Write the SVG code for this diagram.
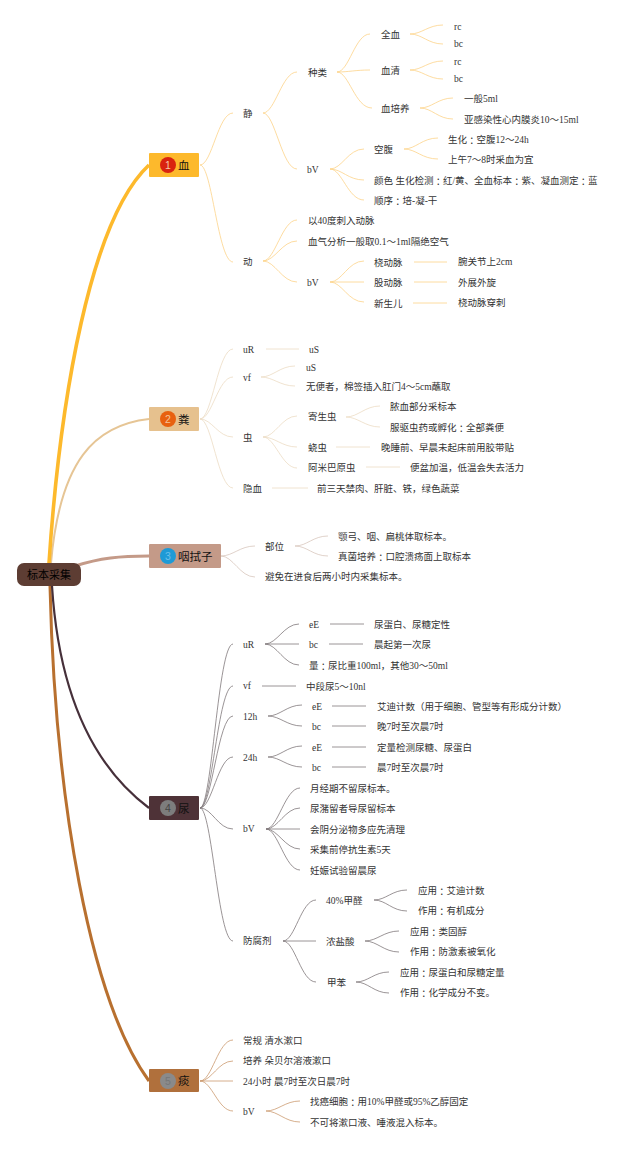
<svg xmlns="http://www.w3.org/2000/svg" width="640" height="1149" viewBox="0 0 640 1149">
<style>
text{font-family:"Liberation Serif","Noto Sans CJK SC",serif;font-size:9.5px;fill:#333;dominant-baseline:central}
.k{font-family:"Noto Sans CJK TC",sans-serif}
.t{font-size:11.5px;fill:#111}
.r{font-size:11px;fill:#000;text-anchor:middle}
.n{font-family:"Liberation Sans",sans-serif;font-size:10.5px;text-anchor:middle}
path{fill:none}
.a path{stroke:#fdd389;stroke-width:.8}
.b path{stroke:#ecdcc4;stroke-width:.8}
.c path{stroke:#d8c6bd;stroke-width:.8}
.d path{stroke:#80797b;stroke-width:.8}
.e path{stroke:#cb9a70;stroke-width:.8}
</style>
<rect width="640" height="1149" fill="#fff"/>
<g id="connectors">
<path d="M50 586C55 800 90 1000 149 1081" stroke="#b8702f" stroke-width="3"/>
<path d="M52 586C58 680 85 760 149 808" stroke="#46303a" stroke-width="2.2"/>
<path d="M75 566C100 558 120 556 149 556" stroke="#c49a88" stroke-width="3"/>
<path d="M51 563C60 460 95 425 149 419" stroke="#e6c595" stroke-width="2"/>
<path d="M49 563C60 400 90 220 149 165" stroke="#fdb92c" stroke-width="3.6"/>
<g class="a">
<path d="M200 165C212 165 218 113 233 113"/><path d="M200 165C212 165 218 262 233 262"/>
<path d="M263 113C275 113 282 72 297 72"/><path d="M263 113C275 113 282 169 297 169"/>
<path d="M337 72C349 72 355 34 370 34"/><path d="M337 72C349 72 355 70 370 70"/><path d="M337 72C349 72 355 108 372 108"/>
<path d="M410 34C422 34 428 25 443 25"/><path d="M410 34C422 34 428 44 443 44"/>
<path d="M410 70C422 70 428 61 443 61"/><path d="M410 70C422 70 428 79 443 79"/>
<path d="M420 108C432 108 438 98 453 98"/><path d="M420 108C432 108 438 119 453 119"/>
<path d="M330 169C342 169 348 149 364 149"/><path d="M330 169C342 169 348 180 364 180"/><path d="M330 169C342 169 348 200 364 200"/>
<path d="M404 149C416 149 422 138 438 138"/><path d="M404 149C416 149 422 159 438 159"/>
<path d="M263 261C275 261 282 220 297 220"/><path d="M263 261C275 261 282 241 297 241"/><path d="M263 261C275 261 282 282 297 282"/>
<path d="M330 282C342 282 348 261 364 261"/><path d="M330 282H364"/><path d="M330 282C342 282 348 302 364 302"/>
<path d="M414 262H447"/><path d="M414 282H447"/><path d="M413 303H447"/>
</g>
<g class="b">
<path d="M200 419C212 419 218 349 233 349"/><path d="M200 419C212 419 218 377 233 377"/><path d="M200 419C212 419 218 437 233 437"/><path d="M200 419C212 419 218 488 233 488"/>
<path d="M266 349H299"/>
<path d="M261 377C273 377 280 366 295 366"/><path d="M261 377C273 377 280 386 295 386"/>
<path d="M263 437C275 437 282 416 297 416"/><path d="M263 437C275 437 282 447 297 447"/><path d="M263 437C275 437 282 468 297 468"/>
<path d="M346 417C358 417 365 406 380 406"/><path d="M346 417C358 417 365 427 380 427"/>
<path d="M336 447H370"/><path d="M366 467H400"/><path d="M272 488H308"/>
</g>
<g class="c">
<path d="M221 556C233 556 240 546 255 546"/><path d="M221 556C233 556 240 577 255 577"/>
<path d="M295 546C307 546 313 536 328 536"/><path d="M295 546C307 546 313 556 328 556"/>
</g>
<g class="d">
<path d="M200 808C212 808 218 644 233 644"/><path d="M200 808C212 808 218 686 233 686"/><path d="M200 808C212 808 218 716 233 716"/><path d="M200 808C212 808 218 757 233 757"/><path d="M200 808C212 808 218 829 233 829"/><path d="M200 808C212 808 218 941 233 941"/>
<path d="M265 644C277 644 284 624 299 624"/><path d="M265 644H299"/><path d="M265 644C277 644 284 665 299 665"/>
<path d="M330 624H364"/><path d="M329 644H363"/><path d="M262 686H296"/>
<path d="M268 716C280 716 287 705 302 705"/><path d="M268 716C280 716 287 726 302 726"/>
<path d="M332 706H366"/><path d="M332 726H366"/>
<path d="M268 757C280 757 287 746 302 746"/><path d="M268 757C280 757 287 767 302 767"/>
<path d="M332 747H366"/><path d="M332 767H366"/>
<path d="M266 829C278 829 285 788 300 788"/><path d="M266 829C278 829 285 808 300 808"/><path d="M266 829H300"/><path d="M266 829C278 829 285 849 300 849"/><path d="M266 829C278 829 285 870 300 870"/>
<path d="M283 941C295 941 301 900 316 900"/><path d="M283 941H316"/><path d="M283 941C295 941 301 982 316 982"/>
<path d="M374 900C386 900 392 890 407 890"/><path d="M374 900C386 900 392 911 407 911"/>
<path d="M365 941C377 941 384 931 399 931"/><path d="M365 941C377 941 384 952 399 952"/>
<path d="M356 982C368 982 374 972 389 972"/><path d="M356 982C368 982 374 993 389 993"/>
</g>
<g class="e">
<path d="M200 1081C212 1081 218 1040 233 1040"/><path d="M200 1081C212 1081 218 1061 233 1061"/><path d="M200 1081H233"/><path d="M200 1081C212 1081 218 1111 233 1111"/>
<path d="M266 1111C278 1111 285 1101 300 1101"/><path d="M266 1111C278 1111 285 1122 300 1122"/>
</g>
</g>
<g id="root"><rect x="17" y="563" width="64" height="23" rx="7" fill="#5d3d33"/><text class="r" x="49" y="575">标本采集</text></g>
<g id="node1"><rect x="149" y="153" width="50" height="24" rx="1" fill="#fdb92c"/><circle cx="168" cy="165" r="8" fill="#d9230f"/><text class="n" x="168" y="165" style="fill:#f6c9a8">1</text><text class="t" x="178" y="166">血</text></g>
<g id="node2"><rect x="149" y="407" width="50" height="24" rx="1" fill="#e6c18e"/><circle cx="168" cy="419" r="8" fill="#e8600f"/><text class="n" x="168" y="419" style="fill:#f5c39a">2</text><text class="t" x="178" y="420">粪</text></g>
<g id="node3"><rect x="149" y="544" width="72" height="24" rx="1" fill="#c49a88"/><circle cx="168" cy="556" r="8" fill="#1e9ad6"/><text class="n" x="168" y="556" style="fill:#6cc0ea">3</text><text class="t" x="178" y="557">咽拭子</text></g>
<g id="node4"><rect x="149" y="796" width="50" height="24" rx="1" fill="#4e3237"/><circle cx="168" cy="808" r="8" fill="#7d7d7d"/><text class="n" x="168" y="808" style="fill:#444">4</text><text class="t" x="178" y="809">尿</text></g>
<g id="node5"><rect x="149" y="1069" width="50" height="23" rx="1" fill="#b0703c"/><circle cx="168" cy="1081" r="8" fill="#8a8a8a"/><text class="n" x="168" y="1081" style="fill:#777">5</text><text class="t" x="178" y="1081">痰</text></g>
<g id="labels-blood">
<g id="a1"><text x="243" y="114">静</text></g><g id="a2"><text x="243" y="262">动</text></g>
<g id="a3"><text x="308" y="73">种类</text></g><g id="a4"><text x="307" y="170">bV</text></g>
<g id="a5"><text x="381" y="35">全血</text></g><g id="a6"><text x="381" y="70.5">血清</text></g><g id="a7"><text x="381" y="109">血培养</text></g>
<g id="a8"><text x="454" y="27">rc</text></g><g id="a9"><text x="454" y="44">bc</text></g><g id="a10"><text x="454" y="62">rc</text></g><g id="a11"><text x="454" y="79">bc</text></g>
<g id="a12"><text x="464" y="99">一般5ml</text></g><g id="a13"><text x="464" y="120">亚感染性心内膜炎10～15ml</text></g>
<g id="a14"><text x="374" y="150">空腹</text></g><g id="a15"><text x="374" y="181">颜色 生化检测<tspan class="k">：</tspan>红/黄、全血标本<tspan class="k">：</tspan>紫、凝血测定<tspan class="k">：</tspan>蓝</text></g><g id="a16"><text x="374" y="201">顺序<tspan class="k">：</tspan>培-凝-干</text></g>
<g id="a17"><text x="448" y="140">生化<tspan class="k">：</tspan>空腹12～24h</text></g><g id="a18"><text x="448" y="160">上午7～8时采血为宜</text></g>
<g id="a19"><text x="308" y="221">以40度刺入动脉</text></g><g id="a20"><text x="308" y="242">血气分析一般取0.1～1ml隔绝空气</text></g><g id="a21"><text x="307" y="283">bV</text></g>
<g id="a22"><text x="374" y="263">桡动脉</text></g><g id="a23"><text x="374" y="283">股动脉</text></g><g id="a24"><text x="374" y="304">新生儿</text></g>
<g id="a25"><text x="458" y="262">腕关节上2cm</text></g><g id="a26"><text x="458" y="283">外展外旋</text></g><g id="a27"><text x="458" y="303">桡动脉穿刺</text></g>
</g>
<g id="labels-stool">
<g id="b1"><text x="243" y="350">uR</text></g><g id="b2"><text x="243" y="378">vf</text></g><g id="b3"><text x="243" y="438">虫</text></g><g id="b4"><text x="243" y="489">隐血</text></g>
<g id="b5"><text x="309" y="350">uS</text></g><g id="b6"><text x="306" y="368">uS</text></g><g id="b7"><text x="306" y="386.5">无便者，棉签插入肛门4～5cm蘸取</text></g>
<g id="b8"><text x="308" y="417">寄生虫</text></g><g id="b9"><text x="308" y="448">蛲虫</text></g><g id="b10"><text x="308" y="468">阿米巴原虫</text></g>
<g id="b11"><text x="390" y="407">脓血部分采标本</text></g><g id="b12"><text x="390" y="428">服驱虫药或孵化<tspan class="k">：</tspan>全部粪便</text></g>
<g id="b13"><text x="381" y="448">晚睡前、早晨未起床前用胶带贴</text></g><g id="b14"><text x="410" y="468">便盆加温，低温会失去活力</text></g><g id="b15"><text x="317" y="489">前三天禁肉、肝脏、铁，绿色蔬菜</text></g>
</g>
<g id="labels-throat">
<g id="c1"><text x="265" y="547">部位</text></g><g id="c2"><text x="265" y="577">避免在进食后两小时内采集标本。</text></g>
<g id="c3"><text x="338" y="537">颚弓、咽、扁桃体取标本。</text></g><g id="c4"><text x="338" y="557">真菌培养<tspan class="k">：</tspan>口腔溃疡面上取标本</text></g>
</g>
<g id="labels-urine">
<g id="d1"><text x="243" y="645">uR</text></g><g id="d2"><text x="243" y="686">vf</text></g><g id="d3"><text x="243" y="717">12h</text></g><g id="d4"><text x="243" y="758">24h</text></g><g id="d5"><text x="243" y="829">bV</text></g><g id="d6"><text x="243" y="941">防腐剂</text></g>
<g id="d7"><text x="309" y="625">eE</text></g><g id="d8"><text x="309" y="645">bc</text></g><g id="d9"><text x="309" y="666">量<tspan class="k">：</tspan>尿比重100ml，其他30～50ml</text></g>
<g id="d10"><text x="374" y="625">尿蛋白、尿糖定性</text></g><g id="d11"><text x="374" y="645">晨起第一次尿</text></g><g id="d12"><text x="306" y="686.5">中段尿5～10nl</text></g>
<g id="d13"><text x="312" y="707">eE</text></g><g id="d14"><text x="312" y="727">bc</text></g><g id="d15"><text x="377" y="707">艾迪计数（用于细胞、管型等有形成分计数）</text></g><g id="d16"><text x="377" y="727">晚7时至次晨7时</text></g>
<g id="d17"><text x="312" y="748">eE</text></g><g id="d18"><text x="312" y="768">bc</text></g><g id="d19"><text x="377" y="748">定量检测尿糖、尿蛋白</text></g><g id="d20"><text x="377" y="768">晨7时至次晨7时</text></g>
<g id="d21"><text x="310" y="789">月经期不留尿标本。</text></g><g id="d22"><text x="310" y="809">尿潴留者导尿留标本</text></g><g id="d23"><text x="310" y="830">会阴分泌物多应先清理</text></g><g id="d24"><text x="310" y="850">采集前停抗生素5天</text></g><g id="d25"><text x="310" y="871">妊娠试验留晨尿</text></g>
<g id="d26"><text x="326" y="901">40%甲醛</text></g><g id="d27"><text x="326" y="942">浓盐酸</text></g><g id="d28"><text x="327" y="983">甲苯</text></g>
<g id="d29"><text x="418" y="891">应用<tspan class="k">：</tspan>艾迪计数</text></g><g id="d30"><text x="418" y="911">作用<tspan class="k">：</tspan>有机成分</text></g>
<g id="d31"><text x="410" y="932">应用<tspan class="k">：</tspan>类固醇</text></g><g id="d32"><text x="410" y="952">作用<tspan class="k">：</tspan>防激素被氧化</text></g>
<g id="d33"><text x="400" y="972.5">应用<tspan class="k">：</tspan>尿蛋白和尿糖定量</text></g><g id="d34"><text x="400" y="993">作用<tspan class="k">：</tspan>化学成分不变。</text></g>
</g>
<g id="labels-sputum">
<g id="e1"><text x="243" y="1041">常规 清水漱口</text></g><g id="e2"><text x="243" y="1061">培养 朵贝尔溶液漱口</text></g><g id="e3"><text x="243" y="1082">24小时 晨7时至次日晨7时</text></g><g id="e4"><text x="243" y="1112">bV</text></g>
<g id="e5"><text x="310" y="1102">找癌细胞<tspan class="k">：</tspan>用10%甲醛或95%乙醇固定</text></g><g id="e6"><text x="310" y="1123">不可将漱口液、唾液混入标本。</text></g>
</g>
</svg>
